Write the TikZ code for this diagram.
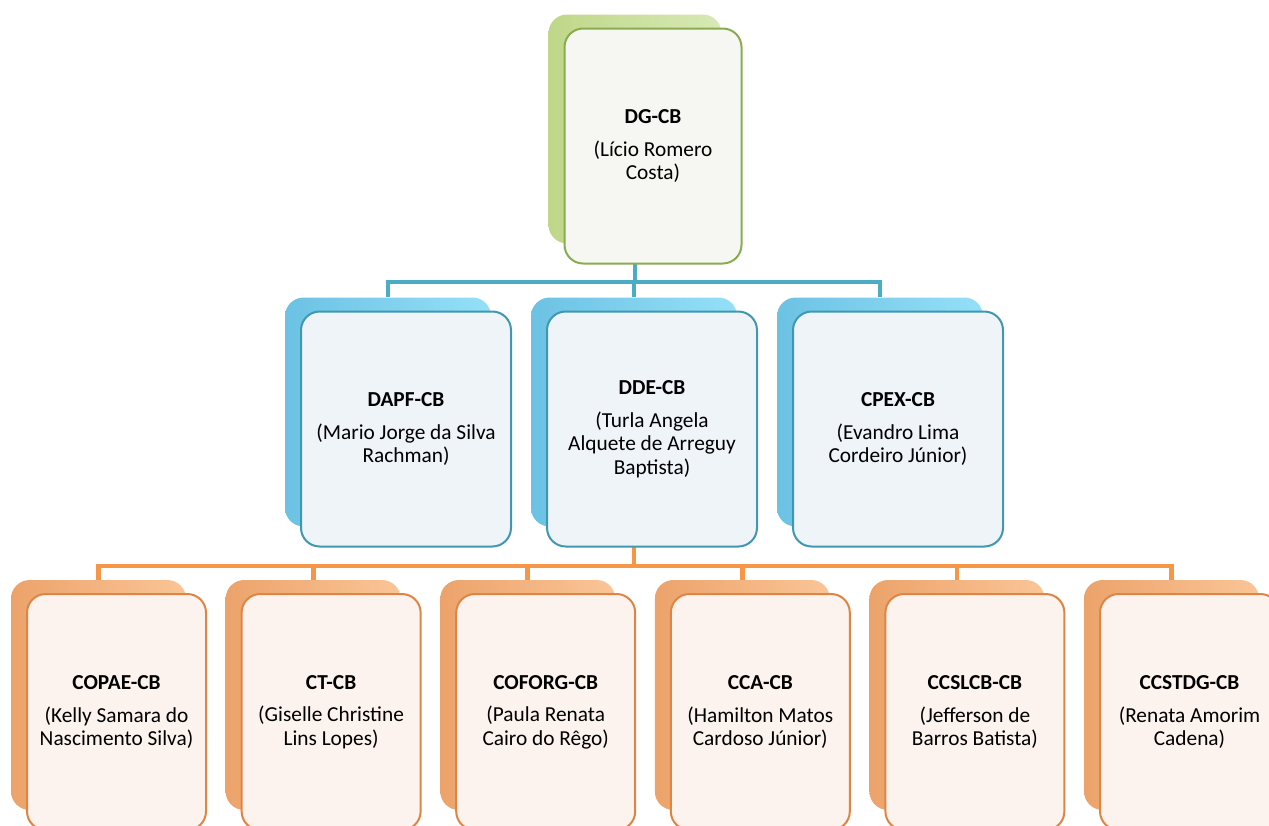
\documentclass[tikz,border=0pt]{standalone}
\usepackage{fontspec}
\setmainfont{Carlito}
\definecolor{grnline}{HTML}{8AAB4F}
\definecolor{grnbackl}{HTML}{BFD788}
\definecolor{grnbackr}{HTML}{D8E9B6}
\definecolor{grnfront}{HTML}{F6F7F2}
\definecolor{bluline}{HTML}{3F97B2}
\definecolor{blubackl}{HTML}{6CC2E4}
\definecolor{blubackr}{HTML}{95E0F8}
\definecolor{blufront}{HTML}{EFF4F9}
\definecolor{bluelink}{HTML}{4BACC6}
\definecolor{orgline}{HTML}{DF8543}
\definecolor{orgbackl}{HTML}{ECA36B}
\definecolor{orgbackr}{HTML}{FAC597}
\definecolor{orgfront}{HTML}{FCF3EF}
\definecolor{orglink}{HTML}{F79646}
\begin{document}
\begin{tikzpicture}[x=0.75pt,y=-0.75pt,
  card/.style={draw,line width=1.5pt,rounded corners=14pt,align=center,inner sep=0pt,
    font=\fontsize{16}{17.6}\selectfont},
  backcard/.style={rounded corners=14pt,inner sep=0pt},
  topcard/.style={card,draw=grnline,fill=grnfront,minimum width=132.75pt,minimum height=176.25pt},
  midcard/.style={card,draw=bluline,fill=blufront,minimum width=157.5pt,minimum height=176.25pt},
  lowcard/.style={card,draw=orgline,fill=orgfront,minimum width=134.25pt,minimum height=177pt},
  topback/.style={backcard,left color=grnbackl,right color=grnbackr,minimum width=129.75pt,minimum height=171.75pt},
  midback/.style={backcard,left color=blubackl,right color=blubackr,minimum width=154.5pt,minimum height=171.75pt},
  lowback/.style={backcard,left color=orgbackl,right color=orgbackr,minimum width=131.25pt,minimum height=172.5pt},
  link/.style={line width=3.6pt}]
\useasboundingbox (0,0) rectangle (1269,825);
\def\dx{18}
\def\dy{17}
% cards lying behind
\node[topback] (dg-b) at (635,129) {};
\foreach \x/\n in {388/dapf,634/dde,880/cpex}
  \node[midback] (\n-b) at (\x,412) {};
\foreach \i/\n in {0/copae,1/ct,2/coforg,3/cca,4/ccslcb,5/ccstdg}
  \node[lowback] (\n-b) at ({98.5+214.6*\i},695) {};
% connectors
\coordinate (bus1) at (635,282);
\coordinate (bus2) at (635,566);
\foreach \n in {dapf,dde,cpex}
  \draw[link,bluelink] (dg-b.south) -- (dg-b.south |- bus1) -| (\n-b.north);
\foreach \n in {copae,ct,coforg,cca,ccslcb,ccstdg}
  \draw[link,orglink] (dde-b.south) -- (dde-b.south |- bus2) -| (\n-b.north);
% front cards
\node[topcard] (dg) at ([shift={(\dx,\dy)}]dg-b.center)
  {\textbf{DG-CB}\\[7pt](Lício Romero\\Costa)};
\foreach \n/\t/\p in {dapf/DAPF-CB/{Mario Jorge da Silva\\Rachman},
    dde/DDE-CB/{Turla Angela\\Alquete de Arreguy\\Baptista},
    cpex/CPEX-CB/{Evandro Lima\\Cordeiro Júnior}}
  \node[midcard] (\n) at ([shift={(\dx,\dy)}]\n-b.center) {\textbf{\t}\\[7pt](\p)};
\foreach \n/\t/\p in {copae/COPAE-CB/{Kelly Samara do\\Nascimento Silva},
    ct/CT-CB/{Giselle Christine\\Lins Lopes},
    coforg/COFORG-CB/{Paula Renata\\Cairo do Rêgo},
    cca/CCA-CB/{Hamilton Matos\\Cardoso Júnior},
    ccslcb/CCSLCB-CB/{Jefferson de\\Barros Batista},
    ccstdg/CCSTDG-CB/{Renata Amorim\\Cadena}}
  \node[lowcard] (\n) at ([shift={(\dx,\dy)}]\n-b.center) {\textbf{\t}\\[7pt](\p)};
\end{tikzpicture}
\end{document}
